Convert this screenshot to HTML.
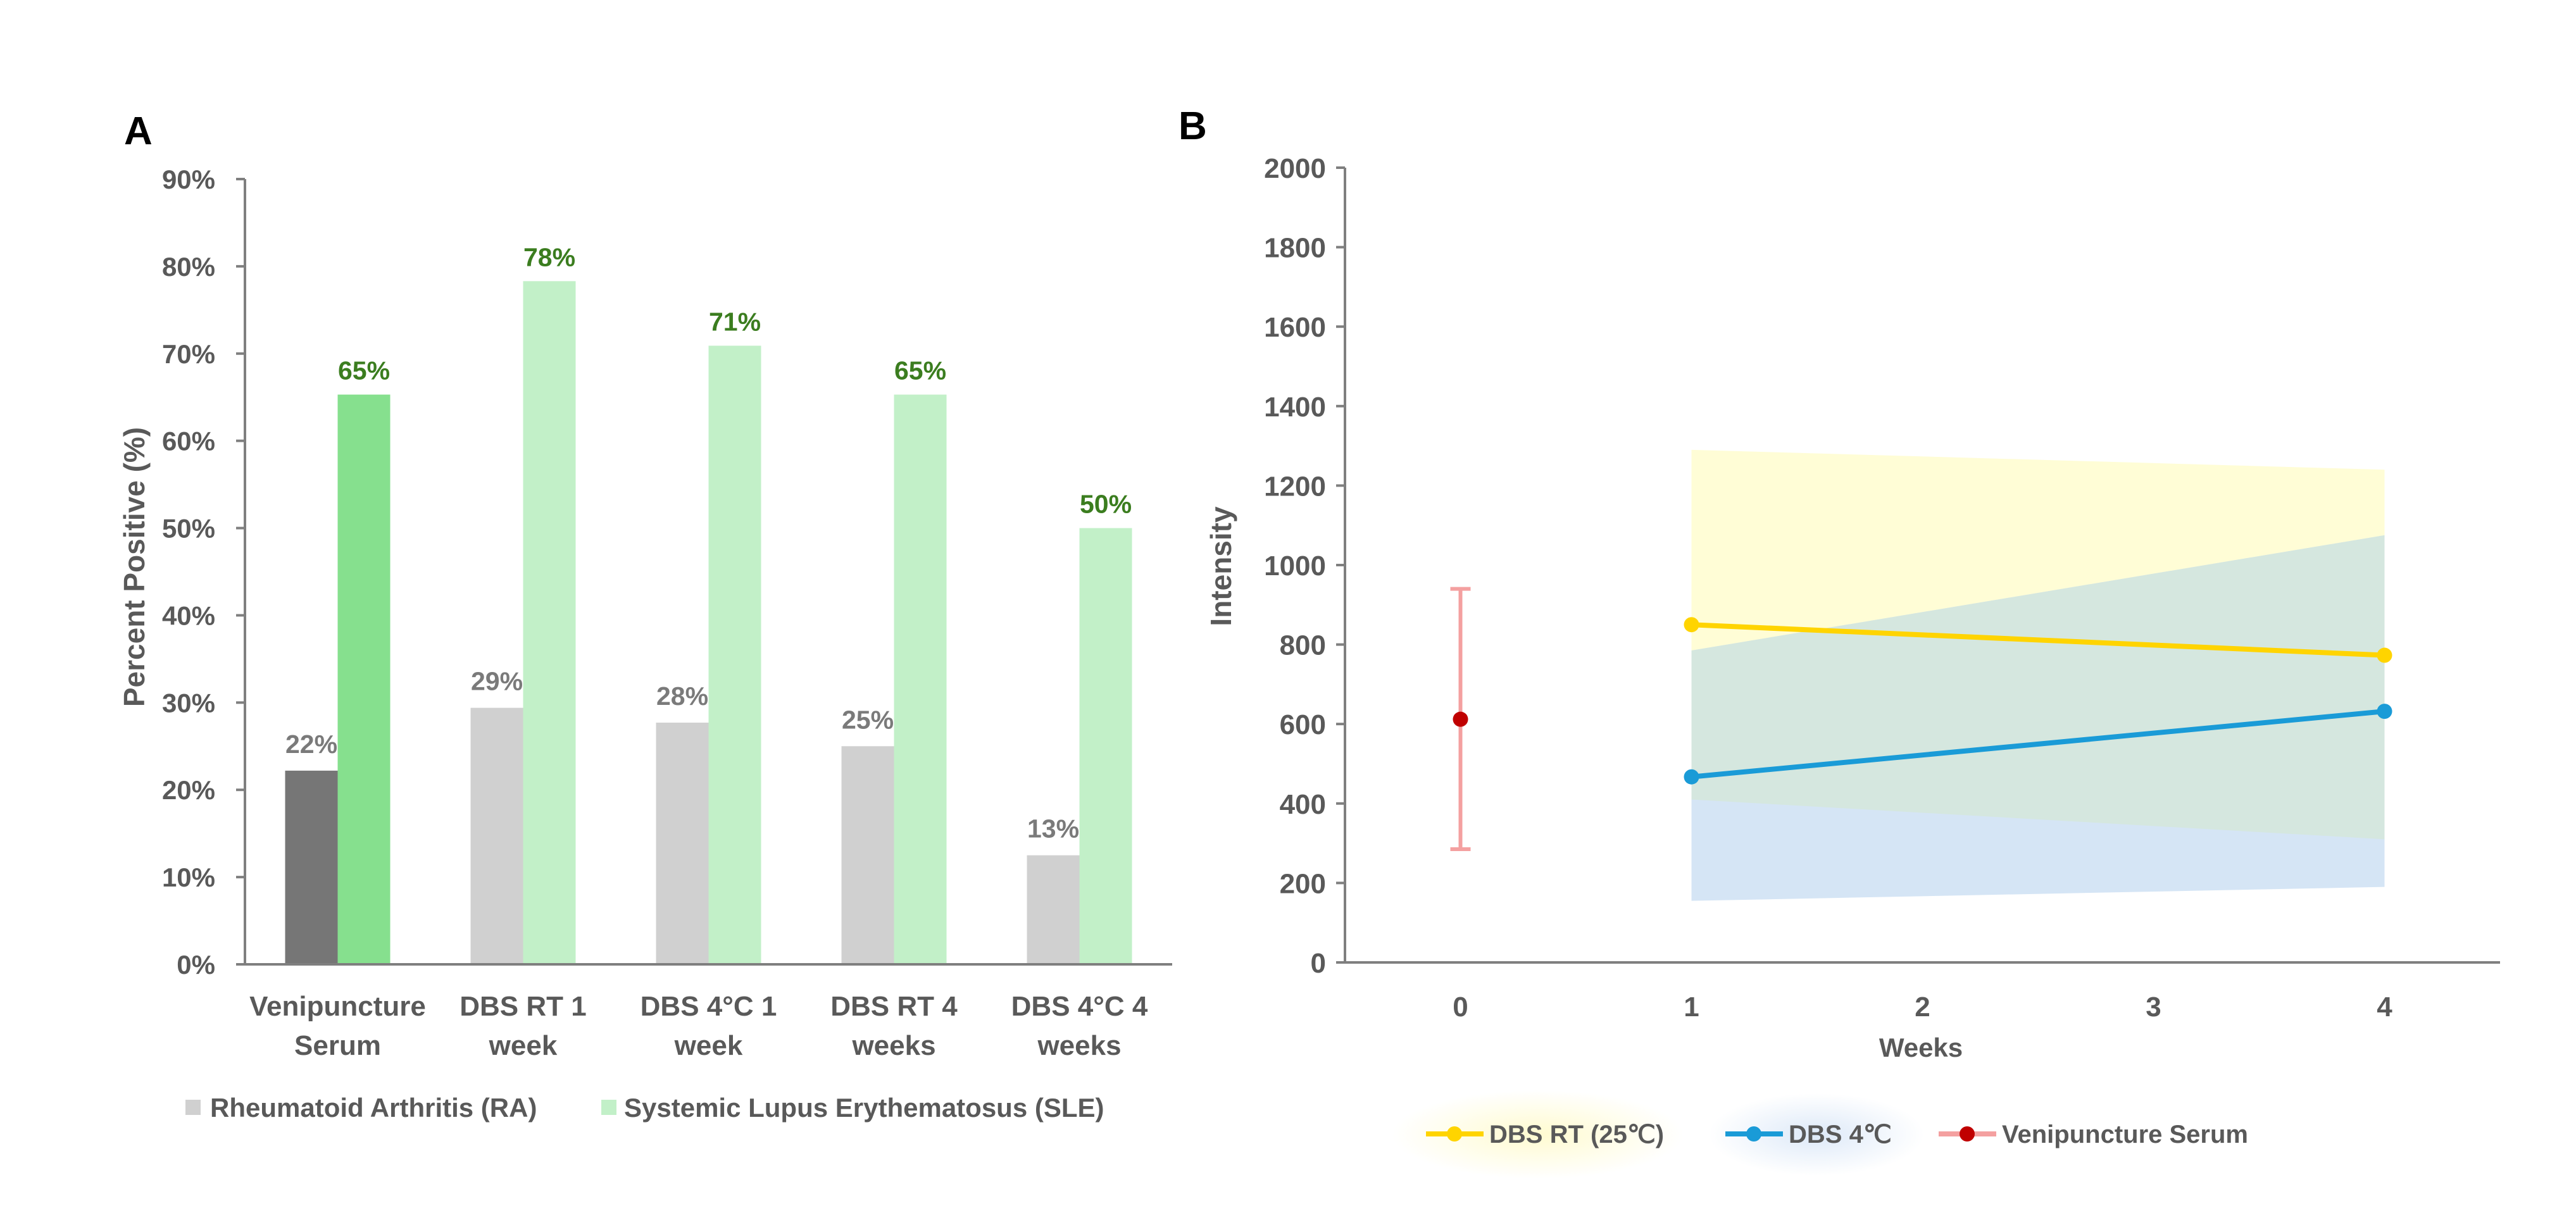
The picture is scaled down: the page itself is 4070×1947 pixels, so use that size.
<!DOCTYPE html>
<html><head><meta charset="utf-8"><style>
html,body{margin:0;padding:0;background:#fff;}
svg{display:block;font-family:"Liberation Sans",sans-serif;font-weight:bold;}
</style></head><body>
<svg id="fig" width="4070" height="1947" viewBox="0 0 4070 1947" xmlns="http://www.w3.org/2000/svg">
<defs>
<radialGradient id="gy"><stop offset="0" stop-color="#fffbd0"/><stop offset="1" stop-color="#fffbd0" stop-opacity="0"/></radialGradient>
<radialGradient id="gb"><stop offset="0" stop-color="#dde9f8"/><stop offset="1" stop-color="#dde9f8" stop-opacity="0"/></radialGradient>
</defs>
<g id="chartA"></g>
<g id="chartB"></g>
</svg>
<script>
// ---- Chart A data ----
const catsA = [["Venipuncture","Serum"],["DBS RT 1","week"],["DBS 4°C 1","week"],["DBS RT 4","weeks"],["DBS 4°C 4","weeks"]];
const raVals = [22.2, 29.4, 27.7, 25.0, 12.5];
const raLabels = ["22%","29%","28%","25%","13%"];
const sleVals = [65.3, 78.3, 70.9, 65.3, 50.0];
const sleLabels = ["65%","78%","71%","65%","50%"];
const yTicksA = [0,10,20,30,40,50,60,70,80,90];

// ---- Chart B data ----
const weeksB = [0,1,2,3,4];
const rtX = [1,4];
const rtMean = [850, 773];
const rtLow = [410, 310];
const rtHigh = [1290, 1240];
const c4Mean = [467, 632];
const c4Low = [155, 190];
const c4High = [785, 1075];
const serumX = [0];
const serumMean = [612];
const serumLow = [285];
const serumHigh = [940];
const yTicksB = [0,200,400,600,800,1000,1200,1400,1600,1800,2000];

const NS="http://www.w3.org/2000/svg";
function mk(parent,tag,attrs,text){const e=document.createElementNS(NS,tag);for(const k in attrs)e.setAttribute(k,attrs[k]);if(text!==undefined)e.textContent=text;parent.appendChild(e);return e;}
const GREY="#595959";

// ===== Chart A =====
(function(){
const g=document.getElementById('chartA');
const x0=387,x1=1852,yTop=283,yBot=1524;
const yA=v=>yBot-(v/90)*(yBot-yTop);
const slot=(x1-x0)/catsA.length;
const cx=i=>x0+slot*(i+0.5);
const bw=83;
let t=mk(g,'text',{x:196,y:228,'font-size':62,fill:'#000'},'A');


yTicksA.forEach(v=>{
  const y=yA(v);
  let l=mk(g,'line',{x1:x0-14,x2:x0,y1:y,y2:y,stroke:'#7f7f7f','stroke-width':4});
  
  
  let tt=mk(g,'text',{x:340,y:y+15,'font-size':42,fill:GREY,'text-anchor':'end'},v+'%');
  
  
});
catsA.forEach((c,i)=>{
  const ra=mk(g,'rect',{x:cx(i)-bw,y:yA(raVals[i]),width:bw,height:yBot-yA(raVals[i]),fill:i===0?'#767676':'#d0d0d0'});
  
  
  const sl=mk(g,'rect',{x:cx(i),y:yA(sleVals[i]),width:bw,height:yBot-yA(sleVals[i]),fill:i===0?'#86e08e':'#c2f0c8'});
  
  
  const rl=mk(g,'text',{x:cx(i)-bw/2,y:yA(raVals[i])-28,'font-size':41,fill:'#7a7a7a','text-anchor':'middle'},raLabels[i]);
  
  
  const sll=mk(g,'text',{x:cx(i)+bw/2,y:yA(sleVals[i])-24,'font-size':41,fill:'#3b7d1f','text-anchor':'middle'},sleLabels[i]);
  
  
  c.forEach((ln,k)=>{
    const xl=mk(g,'text',{x:cx(i),y:1605+k*62,'font-size':44,fill:GREY,'text-anchor':'middle'},ln);
    
    
  });
});
let ax=mk(g,'line',{x1:x0,x2:x0,y1:yTop,y2:yBot,stroke:'#7f7f7f','stroke-width':4});


let bx=mk(g,'line',{x1:x0-14,x2:x1,y1:yBot,y2:yBot,stroke:'#7f7f7f','stroke-width':4});


let yt=mk(g,'text',{x:0,y:0,'font-size':46,fill:GREY,'text-anchor':'middle',transform:'translate(228,896) rotate(-90)'},'Percent Positive (%)');


let s1=mk(g,'rect',{x:293,y:1738,width:24,height:24,fill:'#d0d0d0'});


let l1=mk(g,'text',{x:332,y:1765,'font-size':42,fill:GREY},'Rheumatoid Arthritis (RA)');


let s2=mk(g,'rect',{x:950,y:1738,width:24,height:24,fill:'#c2f0c8'});


let l2=mk(g,'text',{x:986,y:1765,'font-size':42,fill:GREY},'Systemic Lupus Erythematosus (SLE)');


})();

// ===== Chart B =====
(function(){
const g=document.getElementById('chartB');
const x0=2125,x1=3950,yTop=265,yBot=1521;
const yB=v=>yBot-(v/2000)*(yBot-yTop);
const slot=(x1-x0)/weeksB.length;
const xB=w=>x0+slot*(w+0.5);
let t=mk(g,'text',{x:1862,y:220,'font-size':62,fill:'#000'},'B');


yTicksB.forEach(v=>{
  const y=yB(v);
  let l=mk(g,'line',{x1:x0-14,x2:x0,y1:y,y2:y,stroke:'#7f7f7f','stroke-width':4});
  
  
  let tt=mk(g,'text',{x:2095,y:y+16,'font-size':44,fill:GREY,'text-anchor':'end'},String(v));
  
  
});
weeksB.forEach(w=>{
  let tt=mk(g,'text',{x:xB(w),y:1606,'font-size':44,fill:GREY,'text-anchor':'middle'},String(w));
  
  
});
function band(lo,hi,fill,name){
  const pts=[[xB(rtX[0]),yB(hi[0])],[xB(rtX[1]),yB(hi[1])],[xB(rtX[1]),yB(lo[1])],[xB(rtX[0]),yB(lo[0])]];
  const p=mk(g,'polygon',{points:pts.map(p=>p.join(',')).join(' '),fill:fill});
  
  
}
band(rtLow,rtHigh,'#fffdd6','band-rt');
band(c4Low,c4High,'#d5e5f5','band-4c');
const ovLo=rtLow.map((v,i)=>Math.max(v,c4Low[i]));
const ovHi=rtHigh.map((v,i)=>Math.min(v,c4High[i]));
band(ovLo,ovHi,'#d5e7df','band-overlap');
serumX.forEach((w,i)=>{
  const x=xB(w);
  let e=mk(g,'path',{d:`M${x},${yB(serumHigh[i])}V${yB(serumLow[i])}M${x-16},${yB(serumHigh[i])}H${x+16}M${x-16},${yB(serumLow[i])}H${x+16}`,stroke:'#f4a0a0','stroke-width':6,fill:'none'});
  
  
  let d=mk(g,'circle',{cx:x,cy:yB(serumMean[i]),r:12,fill:'#c00000'});
  
  
});
function series(ys,color,name){
  const pl=mk(g,'polyline',{points:rtX.map((w,i)=>xB(w)+','+yB(ys[i])).join(' '),stroke:color,'stroke-width':8,fill:'none'});
  
  
  rtX.forEach((w,i)=>{
    const c=mk(g,'circle',{cx:xB(w),cy:yB(ys[i]),r:12,fill:color});
    
    
  });
}
series(rtMean,'#ffd400','rt');
series(c4Mean,'#1a9bd7','4c');
let ax=mk(g,'line',{x1:x0,x2:x0,y1:yTop,y2:yBot,stroke:'#7f7f7f','stroke-width':4});


let bx=mk(g,'line',{x1:x0-14,x2:x1,y1:yBot,y2:yBot,stroke:'#7f7f7f','stroke-width':4});


let yt=mk(g,'text',{x:0,y:0,'font-size':46,fill:GREY,'text-anchor':'middle',transform:'translate(1945,895) rotate(-90)'},'Intensity');


let xt=mk(g,'text',{x:3035,y:1670,'font-size':42,fill:GREY,'text-anchor':'middle'},'Weeks');


let gl1=mk(g,'ellipse',{cx:2430,cy:1793,rx:230,ry:70,fill:'url(#gy)'});


let gl2=mk(g,'ellipse',{cx:2870,cy:1793,rx:170,ry:65,fill:'url(#gb)'});


const leg=[['DBS RT (25℃)','#ffd400','#ffd400',2253,'rt'],['DBS 4℃','#1a9bd7','#1a9bd7',2726,'4c'],['Venipuncture Serum','#f4a0a0','#c00000',3063,'serum']];
leg.forEach(L=>{
  let ln=mk(g,'line',{x1:L[3],x2:L[3]+91,y1:1792,y2:1792,stroke:L[1],'stroke-width':8});
  
  
  let c=mk(g,'circle',{cx:L[3]+45,cy:1792,r:12,fill:L[2]});
  
  
  let tx=mk(g,'text',{x:L[3]+100,y:1806,'font-size':40,fill:GREY},L[0]);
  
  
});
})();
</script>
</body></html>
